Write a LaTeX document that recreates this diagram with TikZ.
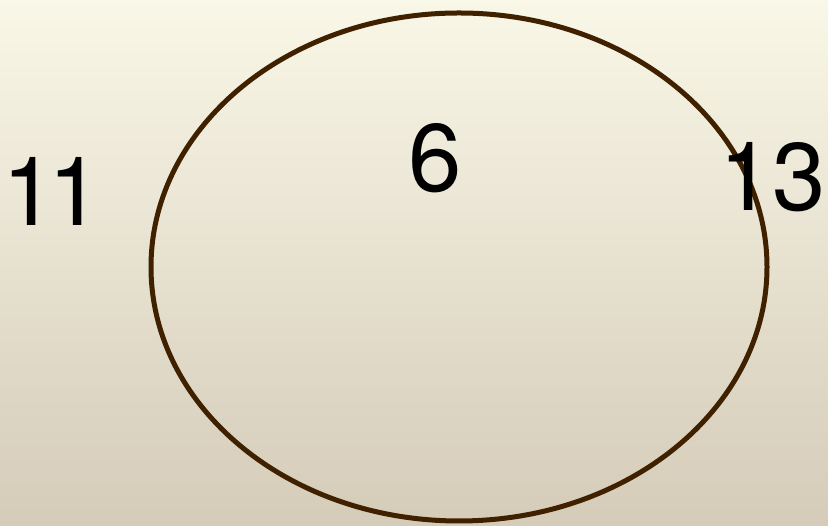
\documentclass[tikz,border=0pt]{standalone}
\usepackage{fontspec}
\setmainfont{TeX Gyre Heros}
\definecolor{bgtop}{HTML}{F9F7E7}
\definecolor{bgbot}{HTML}{D5CBB9}
\definecolor{ringc}{HTML}{3F2100}
\begin{document}
\begin{tikzpicture}[x=1pt,y=1pt,
  num/.style={font=\fontsize{96}{96}\selectfont, text=black, inner sep=0pt, anchor=base west}]
\shade[top color=bgtop, bottom color=bgbot] (0,0) rectangle (828,526);
\useasboundingbox (0,0) rectangle (828,526);
\draw[ringc, line width=5pt] (459,259) ellipse [x radius=308, y radius=254];
\node[num] (n11) at (2,300) {1\kern-0.074em1};
\node[num] (n6) at (408,334) {6};
\node[num] (n13) at (719,315) {13};
\end{tikzpicture}
\end{document}
